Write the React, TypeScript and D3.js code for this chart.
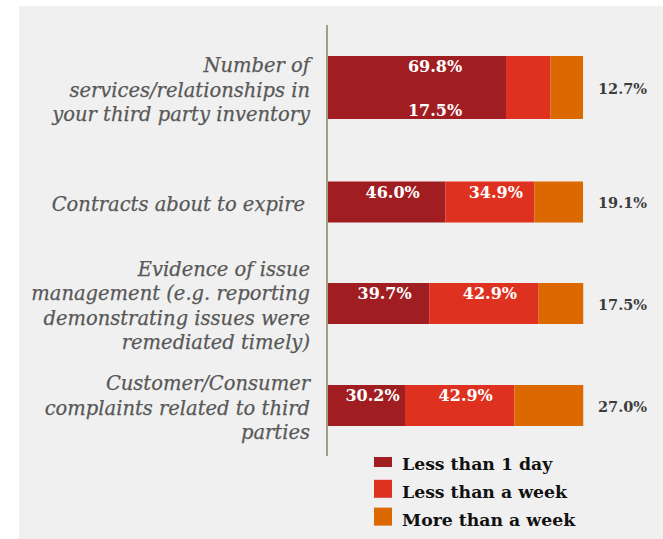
import React from "react";
import * as d3 from "d3";

// Survey rows (label lines) and the three response shares per row, in percent
const categoryLines: string[][] = [
  ["Number of", "services/relationships in", "your third party inventory"],
  ["Contracts about to expire"],
  ["Evidence of issue", "management (e.g. reporting", "demonstrating issues were", "remediated timely)"],
  ["Customer/Consumer", "complaints related to third", "parties"],
];
const seriesNames = ["Less than 1 day", "Less than a week", "More than a week"];
const lessThanDay = [69.8, 46.0, 39.7, 30.2];
const lessThanWeek = [17.5, 34.9, 42.9, 42.9];
const moreThanWeek = [12.7, 19.1, 17.5, 27.0];

const W = 663;
const H = 539;
const COLORS = ["#a01e21", "#de3120", "#dc6900"];
const AXIS_X = 327;
const ROW_CENTER = [87.5, 202, 303.5, 405.5];
const ROW_HEIGHT = [63, 41, 41, 41];
const LABEL_SERIF = "'DejaVu Serif', Georgia, serif";

export default function App() {
  const rows = categoryLines.map((lines, i) => ({
    key: i,
    lines,
    a: lessThanDay[i],
    b: lessThanWeek[i],
    c: moreThanWeek[i],
  }));
  const stack = d3.stack<any>().keys(["a", "b", "c"]);
  const layers = stack(rows);

  const x = d3.scaleLinear().domain([0, 100]).range([AXIS_X + 1, 583]);
  const fmt = (v: number) => d3.format(".1f")(v) + "%";

  return (
    <svg
      width={W}
      height={H}
      style={{ position: "absolute", left: 0, top: 0, display: "block" }}
    >
      <rect x={0} y={0} width={W} height={H} fill="#ffffff" />
      <rect x={19} y={6} width={W - 19} height={H - 6} fill="#f0f0f0" />

      {/* stacked bars */}
      {layers.map((layer, li) => (
        <g key={li} fill={COLORS[li]}>
          {layer.map((d, ri) => (
            <rect
              key={ri}
              x={x(d[0])}
              y={ROW_CENTER[ri] - ROW_HEIGHT[ri] / 2}
              width={x(d[1]) - x(d[0])}
              height={ROW_HEIGHT[ri]}
            />
          ))}
        </g>
      ))}

      {/* axis line */}
      <line x1={AXIS_X} x2={AXIS_X} y1={25} y2={456} stroke="#a59e87" strokeWidth={2} />

      {/* category labels */}
      {rows.map((r, ri) => {
        const lh = 24.5;
        const first = ROW_CENTER[ri] - ((r.lines.length - 1) / 2) * lh + 9;
        return (
          <text
            key={ri}
            textAnchor="end"
            fontFamily={LABEL_SERIF}
            fontStyle="italic"
            fontSize={19.5}
            fill="#585858"
            stroke="#585858"
            strokeWidth={0.25}
          >
            {r.lines.map((ln, k) => (
              <tspan key={k} x={ri === 1 ? 305 : 310} y={first + k * lh}>
                {ln}
              </tspan>
            ))}
          </text>
        );
      })}

      {/* value labels inside the bars (first two series) */}
      {layers.slice(0, 2).map((layer, li) =>
        layer.map((d, ri) => {
          const top = ROW_CENTER[ri] - ROW_HEIGHT[ri] / 2;
          let cx = (x(d[0]) + x(d[1])) / 2 + 6;
          let y = top + 16;
          if (ri === 0) {
            const first = layers[0][0];
            cx = (x(first[0]) + x(first[1])) / 2 + 18;
            y = li === 0 ? top + 16 : top + ROW_HEIGHT[ri] - 3;
          }
          return (
            <text
              key={`${li}-${ri}`}
              x={cx}
              y={y}
              textAnchor="middle"
              fontFamily={LABEL_SERIF}
              fontWeight="bold"
              fontSize={16}
              fill="#ffffff"
            >
              {fmt(d[1] - d[0])}
            </text>
          );
        })
      )}

      {/* value labels beside the bars (third series) */}
      {layers[2].map((d, ri) => (
        <text
          key={ri}
          x={x(100) + 15}
          y={ROW_CENTER[ri] + 6}
          fontFamily={LABEL_SERIF}
          fontWeight="bold"
          fontSize={14.5}
          fill="#3c3c3c"
        >
          {fmt(d[1] - d[0])}
        </text>
      ))}

      {/* legend */}
      {seriesNames.map((name, i) => {
        const base = 470 + i * 27.8;
        const small = i === 0;
        return (
          <g key={name}>
            <rect
              x={374}
              y={small ? base - 13 : base - 18}
              width={18}
              height={small ? 10 : 18}
              fill={COLORS[i]}
            />
            <text
              x={402}
              y={base}
              fontFamily={LABEL_SERIF}
              fontWeight="bold"
              fontSize={17.3}
              fill="#111111"
            >
              {name}
            </text>
          </g>
        );
      })}
    </svg>
  );
}
